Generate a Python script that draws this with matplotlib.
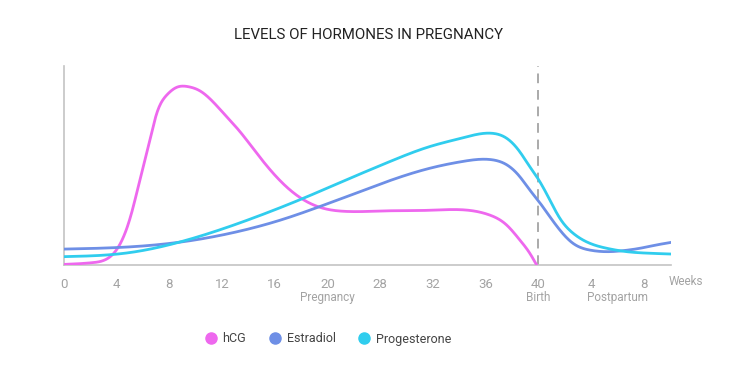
import matplotlib

matplotlib.use("Agg")
import matplotlib.pyplot as plt
import numpy as np
from matplotlib.lines import Line2D

# x axis is categorical-ish: evenly spaced slots (note 24 is skipped in the source)
TICK_LABELS = ["0", "4", "8", "12", "16", "20", "28", "32", "36", "40", "4", "8"]
PHASE_LABELS = {"Pregnancy": 5.0, "Birth": 9.0, "Postpartum": 10.5}

# values (x in slot units, y relative level 0-100)
HCG_X = [0.0, 0.55, 0.81, 0.97, 1.13, 1.28, 1.44, 1.60, 1.76, 1.95, 2.14, 2.36, 2.58,
         3.02, 3.34, 3.66, 3.97, 4.29, 4.61, 4.92, 5.30, 6.10, 6.94, 7.64, 8.08, 8.40, 8.65,
         8.84, 8.97]
HCG_Y = [0.3, 1.2, 3.0, 6.7, 14.2, 25.9, 42.7, 59.5, 76.2, 85.4, 89.3, 89.6, 87.5,
         76.5, 67.0, 56.1, 46.1, 37.7, 31.8, 28.5, 27.0, 27.2, 27.5, 27.6, 25.1, 20.1, 12.6,
         5.9, 0.0]

ESTRADIOL_X = [0.0, 1.18, 2.26, 3.25, 4.16, 4.92, 5.43, 6.14, 6.94, 7.58, 8.12, 8.40, 8.65,
               8.84, 8.99, 9.22, 9.41, 9.66, 9.98, 10.30, 10.61, 10.93, 11.25, 11.53]
ESTRADIOL_Y = [8.0, 9.0, 11.7, 16.5, 23.0, 30.0, 35.0, 42.0, 48.6, 52.1, 52.9, 50.4, 44.4,
               37.7, 32.7, 24.3, 17.6, 10.9, 7.5, 6.7, 7.2, 8.4, 10.1, 11.4]

PROGESTERONE_X = [0.0, 1.18, 2.26, 3.66, 4.54, 5.43, 6.14, 6.94, 7.58, 8.12, 8.40, 8.65, 8.84,
                  8.99, 9.22, 9.41, 9.66, 9.98, 10.30, 10.68, 11.12, 11.53]
PROGESTERONE_Y = [4.2, 6.0, 12.0, 24.3, 33.5, 43.6, 51.5, 59.5, 64.0, 66.2, 63.7, 56.9, 49.4,
                  43.6, 32.7, 23.5, 16.0, 10.9, 8.4, 6.7, 5.9, 5.5]

COLORS = {"hCG": "#ee68ee", "Estradiol": "#6e8fe6", "Progesterone": "#30cdee"}


def _smooth(x, y, n=800):
    # natural cubic spline through the read points, only for a smooth stroke
    x = np.asarray(x, float)
    y = np.asarray(y, float)
    k = len(x)
    h = np.diff(x)
    a = np.zeros((k, k))
    b = np.zeros(k)
    a[0, 0] = a[-1, -1] = 1.0
    for i in range(1, k - 1):
        a[i, i - 1] = h[i - 1]
        a[i, i] = 2 * (h[i - 1] + h[i])
        a[i, i + 1] = h[i]
        b[i] = 6 * ((y[i + 1] - y[i]) / h[i] - (y[i] - y[i - 1]) / h[i - 1])
    m = np.linalg.solve(a, b)
    xs = np.linspace(x[0], x[-1], n)
    idx = np.clip(np.searchsorted(x, xs) - 1, 0, k - 2)
    hi = h[idx]
    t0 = x[idx + 1] - xs
    t1 = xs - x[idx]
    ys = (m[idx] * t0**3 / (6 * hi) + m[idx + 1] * t1**3 / (6 * hi)
          + (y[idx] / hi - m[idx] * hi / 6) * t0 + (y[idx + 1] / hi - m[idx + 1] * hi / 6) * t1)
    return xs, ys


plt.rcParams["font.family"] = ["Roboto", "DejaVu Sans"]

fig = plt.figure(figsize=(7.4, 3.74), dpi=100)
ax = fig.add_axes([64 / 740, 1 - 265 / 374, (671 - 64) / 740, (265 - 66) / 374])

series = [
    ("hCG", HCG_X, HCG_Y),
    ("Estradiol", ESTRADIOL_X, ESTRADIOL_Y),
    ("Progesterone", PROGESTERONE_X, PROGESTERONE_Y),
]
for name, xs, ys in series:
    sx, sy = _smooth(xs, ys)
    ax.plot(sx, sy, color=COLORS[name], lw=2.0, solid_capstyle="round", zorder=3)

ax.axvline(9.0, color="#aaaaaa", lw=1.4, ls=(0, (5, 3.5)), zorder=2)

ax.set_xlim(0, 11.52)
ax.set_ylim(0, 100)
for side in ("top", "right"):
    ax.spines[side].set_visible(False)
for side in ("left", "bottom"):
    ax.spines[side].set_color("#c4c4c4")
    ax.spines[side].set_linewidth(1.2)
ax.set_yticks([])
ax.set_xticks(range(len(TICK_LABELS)))
ax.set_xticklabels(TICK_LABELS)
ax.tick_params(axis="x", length=0, pad=9, labelsize=9.5, labelcolor="#a3a3a3")

for label, pos in PHASE_LABELS.items():
    ax.text(pos, -16.5, label, ha="center", va="center", fontsize=8.5, color="#a3a3a3")
ax.text(11.8, -8.5, "Weeks", ha="center", va="center", fontsize=8.5, color="#a3a3a3",
        clip_on=False)

fig.text(368 / 740, 1 - 35 / 374, "LEVELS OF HORMONES IN PREGNANCY", ha="center", va="center",
         fontsize=10.8, color="#222222")

handles = [
    Line2D([], [], marker="o", ls="none", markersize=8, markerfacecolor=COLORS[name],
           markeredgecolor=COLORS[name], label=name)
    for name, _, _ in series
]
fig.legend(handles=handles, loc="center", bbox_to_anchor=(328 / 740, 1 - 339 / 374), ncol=3,
           frameon=False, fontsize=9, handlelength=1.0, handletextpad=0.45, columnspacing=1.8,
           labelcolor="#444444")

fig.savefig("out.png", dpi=100)
